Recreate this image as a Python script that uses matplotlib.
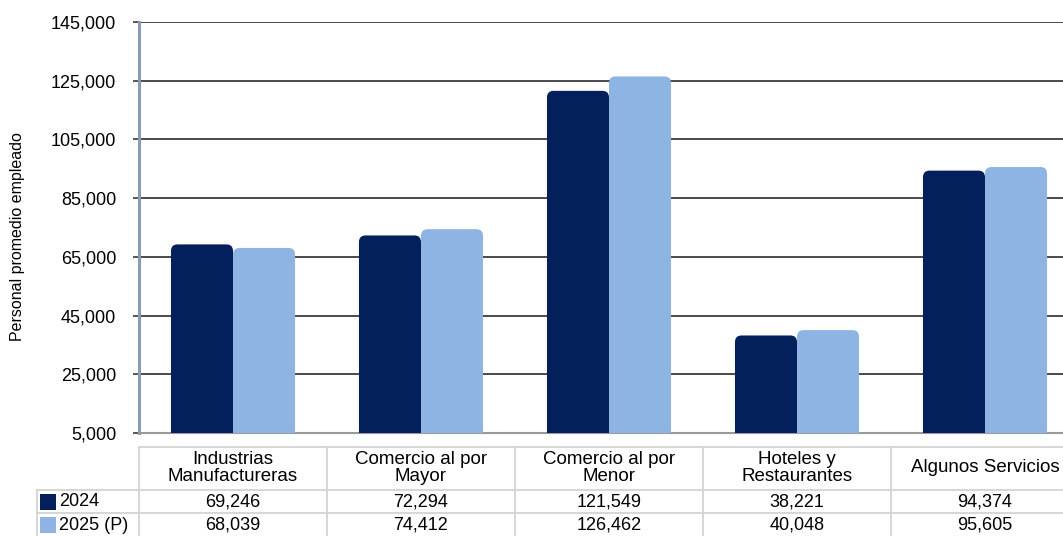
import matplotlib.pyplot as plt
from matplotlib.patches import FancyBboxPatch, Rectangle
from matplotlib.ticker import FuncFormatter

plt.rcParams["font.family"] = ["Liberation Sans", "DejaVu Sans"]

categories = [
    "Industrias\nManufactureras",
    "Comercio al por\nMayor",
    "Comercio al por\nMenor",
    "Hoteles y\nRestaurantes",
    "Algunos Servicios",
]
series_names = ["2024", "2025 (P)"]
values_2024 = [69246, 72294, 121549, 38221, 94374]
values_2025 = [68039, 74412, 126462, 40048, 95605]
y_ticks = [5000, 25000, 45000, 65000, 85000, 105000, 125000, 145000]

dark = "#03205d"
light = "#8db4e3"
W, H = 1063, 536

fig = plt.figure(figsize=(W / 100, H / 100), dpi=100)
# plot area runs past the right edge of the figure, like the original
ax = fig.add_axes([139 / W, 103 / H, 940 / W, 411 / H])
ax.set_xlim(-0.5, 4.5)
ax.set_ylim(5000, 145000)

# aspect so the rounded corners stay circular in pixels
x_per_px = 5 / 940
y_per_px = 140000 / 411
aspect = y_per_px / x_per_px
bw = 0.33

for i, (v1, v2) in enumerate(zip(values_2024, values_2025)):
    for x0, v, c in [(i - bw, v1, dark), (i, v2, light)]:
        p = FancyBboxPatch(
            (x0, 0), bw, v,
            boxstyle="round,pad=0,rounding_size=0.035",
            mutation_aspect=aspect,
            facecolor=c,
            edgecolor="none",
            zorder=3,
        )
        ax.add_patch(p)

ax.set_yticks(y_ticks)
ax.yaxis.set_major_formatter(FuncFormatter(lambda v, pos: f"{int(v):,}"))
ax.tick_params(axis="y", labelsize=13, length=4, width=1.2, color="#3a3a3a",
               labelcolor="black", pad=12.5)
ax.set_xticks([])
ax.grid(axis="y", color="#3c3c3c", linewidth=1.3, zorder=0)
ax.set_axisbelow(True)
for s in ["top", "right"]:
    ax.spines[s].set_visible(False)
ax.spines["left"].set_color("#8a9cb5")
ax.spines["left"].set_linewidth(2.2)
ax.spines["bottom"].set_color("#9a9a9a")
ax.spines["bottom"].set_linewidth(1.5)
ax.set_ylabel("Personal promedio empleado", fontsize=11.5)
ax.yaxis.set_label_coords((25 - 139) / 940, (433 - 237) / 411)

# data table below the plot, y in pixels from figure bottom
tax = fig.add_axes([139 / W, 0, 940 / W, 89 / H])
tax.set_xlim(-0.5, 4.5)
tax.set_ylim(0, 89)
tax.axis("off")
lc = "#d3d3d3"
lbl_left = -0.5 - 102 * x_per_px
tax.plot([-0.5, 4.5], [89, 89], color=lc, lw=1.3, clip_on=False)
for yy in [46, 23]:
    tax.plot([lbl_left, 4.5], [yy, yy], color=lc, lw=1.3, clip_on=False)
for k in range(6):
    xx = -0.5 + k
    tax.plot([xx, xx], [0, 89], color=lc, lw=1.3, clip_on=False)
tax.plot([lbl_left, lbl_left], [0, 46], color=lc, lw=1.3, clip_on=False)

for i, cat in enumerate(categories):
    tax.text(i, 68, cat, ha="center", va="center", fontsize=13.5, linespacing=1.0)
    tax.text(i, 34, f"{values_2024[i]:,}", ha="center", va="center", fontsize=13)
    tax.text(i, 11, f"{values_2025[i]:,}", ha="center", va="center", fontsize=13)

for name, yy, c in [(series_names[0], 34, dark), (series_names[1], 11, light)]:
    tax.add_patch(Rectangle((lbl_left + 3 * x_per_px, yy - 8), 16 * x_per_px, 16,
                            facecolor=c, edgecolor="none", clip_on=False))
    tax.text(lbl_left + 22 * x_per_px, yy, name, ha="left", va="center", fontsize=13)

fig.savefig("out.png", dpi=100)
